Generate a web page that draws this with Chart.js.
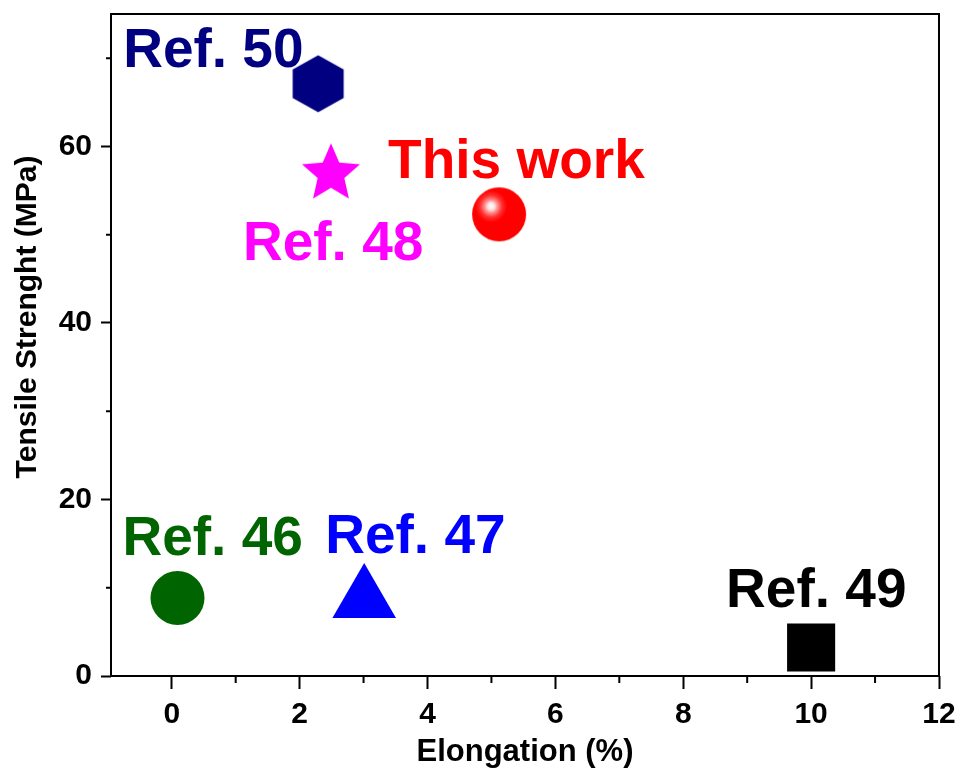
<!DOCTYPE html>
<html>
<head>
<meta charset="utf-8">
<script src="https://cdn.jsdelivr.net/npm/chart.js@4.4.1/dist/chart.umd.min.js"></script>
<style>
    body { margin: 0; background: #fff; }
    #wrap { width: 963px; height: 772px; position: relative; }
</style>
</head>
<body>
<div id="wrap"><canvas id="propChart"></canvas></div>
<script>
// values
const refNames   = ["Ref. 50", "This work", "Ref. 48", "Ref. 46", "Ref. 47", "Ref. 49"];
const elongation = [2.29, 5.12, 2.49, 0.09, 3.01, 10.0];
const strength   = [67.1, 52.3, 56.9, 8.84, 8.64, 3.23];
const xTicks = [0, 2, 4, 6, 8, 10, 12];
const yTicks = [0, 20, 40, 60];

// styling
const colors = ["#000080", "#ff0000", "#ff00ff", "#006400", "#0000ff", "#000000"];
const labelOffsets = [[-195, -17], [-111, -36], [-88, 86], [-55, -43], [-39, -47], [-85, -40]];
const FONT = "'Liberation Sans', Arial, sans-serif";

function makeCanvas(size) {
    const c = document.createElement("canvas");
    c.width = size;
    c.height = size;
    return c;
}

function hexagon(color) {
    const c = makeCanvas(60);
    const g = c.getContext("2d");
    const r = 28.5, hw = 25.5;
    g.fillStyle = color;
    g.beginPath();
    g.moveTo(30, 30 - r);
    g.lineTo(30 + hw, 30 - r / 2);
    g.lineTo(30 + hw, 30 + r / 2);
    g.lineTo(30, 30 + r);
    g.lineTo(30 - hw, 30 + r / 2);
    g.lineTo(30 - hw, 30 - r / 2);
    g.closePath();
    g.fill();
    return c;
}

function star(color) {
    const c = makeCanvas(64);
    const g = c.getContext("2d");
    const R = 30.5, rIn = 14;
    g.fillStyle = color;
    g.beginPath();
    for (let i = 0; i < 10; i++) {
        const rad = i % 2 === 0 ? R : rIn;
        const a = -Math.PI / 2 + i * Math.PI / 5;
        const px = 32 + rad * Math.cos(a), py = 32 + rad * Math.sin(a);
        if (i === 0) g.moveTo(px, py); else g.lineTo(px, py);
    }
    g.closePath();
    g.fill();
    return c;
}

function sphere(color) {
    const c = makeCanvas(58);
    const g = c.getContext("2d");
    const grad = g.createRadialGradient(21, 21, 0, 21, 21, 20);
    grad.addColorStop(0, "#ffffff");
    grad.addColorStop(0.18, "#ffe0e0");
    grad.addColorStop(0.3, "#ff9a9a");
    grad.addColorStop(0.55, "#ff3030");
    grad.addColorStop(0.8, color);
    grad.addColorStop(1, color);
    g.fillStyle = grad;
    g.beginPath();
    g.arc(29, 29, 27, 0, Math.PI * 2);
    g.fill();
    return c;
}

const pointStyles = [hexagon(colors[0]), sphere(colors[1]), star(colors[2]), "circle", "triangle", "rect"];
const pointSizes = [28, 27, 30, 27, 36.7, 34];

const minorTicks = {
    id: "minorTicks",
    afterDraw(chart) {
        const { ctx, chartArea, scales } = chart;
        ctx.save();
        ctx.strokeStyle = "#000";
        ctx.lineWidth = 2;
        ctx.beginPath();
        for (let v = 1; v <= 11; v += 2) {
            const px = scales.x.getPixelForValue(v);
            ctx.moveTo(px, chartArea.bottom);
            ctx.lineTo(px, chartArea.bottom + 7);
        }
        for (let v = 10; v <= 70; v += 20) {
            const py = scales.y.getPixelForValue(v);
            ctx.moveTo(chartArea.left, py);
            ctx.lineTo(chartArea.left - 5, py);
        }
        ctx.stroke();
        // frame
        ctx.strokeRect(chartArea.left, chartArea.top, chartArea.right - chartArea.left, chartArea.bottom - chartArea.top);
        // y axis title
        ctx.fillStyle = "#000";
        ctx.font = "bold 30px " + FONT;
        ctx.textAlign = "center";
        ctx.textBaseline = "middle";
        ctx.translate(28, 317);
        ctx.rotate(-Math.PI / 2);
        ctx.fillText("Tensile Strenght (MPa)", 0, 0);
        ctx.restore();
    },
};

const pointLabels = {
    id: "pointLabels",
    afterDatasetsDraw(chart) {
        const { ctx } = chart;
        const meta = chart.getDatasetMeta(0);
        ctx.save();
        ctx.font = "bold 55px " + FONT;
        ctx.textAlign = "left";
        ctx.textBaseline = "alphabetic";
        meta.data.forEach((pt, i) => {
            ctx.fillStyle = colors[i];
            ctx.fillText(refNames[i], pt.x + labelOffsets[i][0], pt.y + labelOffsets[i][1]);
        });
        ctx.restore();
    },
};

new Chart(document.getElementById("propChart"), {
    type: "scatter",
    data: {
        labels: refNames,
        datasets: [
            {
                data: elongation.map((x, i) => ({ x: x, y: strength[i] })),
                pointStyle: pointStyles,
                pointRadius: pointSizes,
                pointHoverRadius: pointSizes,
                backgroundColor: colors,
                borderColor: colors,
                borderWidth: 0,
                clip: false,
            },
        ],
    },
    options: {
        responsive: true,
        maintainAspectRatio: false,
        animation: false,
        layout: { autoPadding: false, padding: { top: 14, right: 24, left: 0, bottom: 0 } },
        plugins: { legend: { display: false }, tooltip: { enabled: false } },
        scales: {
            x: {
                type: "linear",
                min: -0.95,
                max: 12,
                afterBuildTicks: (scale) => {
                    scale.ticks = xTicks.map((v) => ({ value: v }));
                },
                afterFit: (scale) => {
                    scale.height = 96;
                    scale.paddingLeft = 0;
                    scale.paddingRight = 0;
                },
                ticks: {
                    color: "#000",
                    font: { family: FONT, size: 30, weight: "bold" },
                    padding: 8,
                    maxRotation: 0,
                },
                grid: {
                    drawOnChartArea: false,
                    drawTicks: true,
                    tickLength: 13,
                    tickWidth: 2,
                    tickColor: "#000",
                },
                border: { display: false },
                title: {
                    display: true,
                    text: "Elongation (%)",
                    color: "#000",
                    font: { family: FONT, size: 31, weight: "bold" },
                    padding: 1,
                },
            },
            y: {
                min: 0,
                max: 75,
                afterBuildTicks: (scale) => {
                    scale.ticks = yTicks.map((v) => ({ value: v }));
                },
                afterFit: (scale) => {
                    scale.width = 111;
                    scale.paddingTop = 0;
                    scale.paddingBottom = 0;
                },
                ticks: {
                    color: "#000",
                    font: { family: FONT, size: 30, weight: "bold" },
                    padding: 9,
                },
                grid: {
                    drawOnChartArea: false,
                    drawTicks: true,
                    tickLength: 10,
                    tickWidth: 2,
                    tickColor: "#000",
                },
                border: { display: false },
            },
        },
    },
    plugins: [minorTicks, pointLabels],
});
</script>
</body>
</html>
